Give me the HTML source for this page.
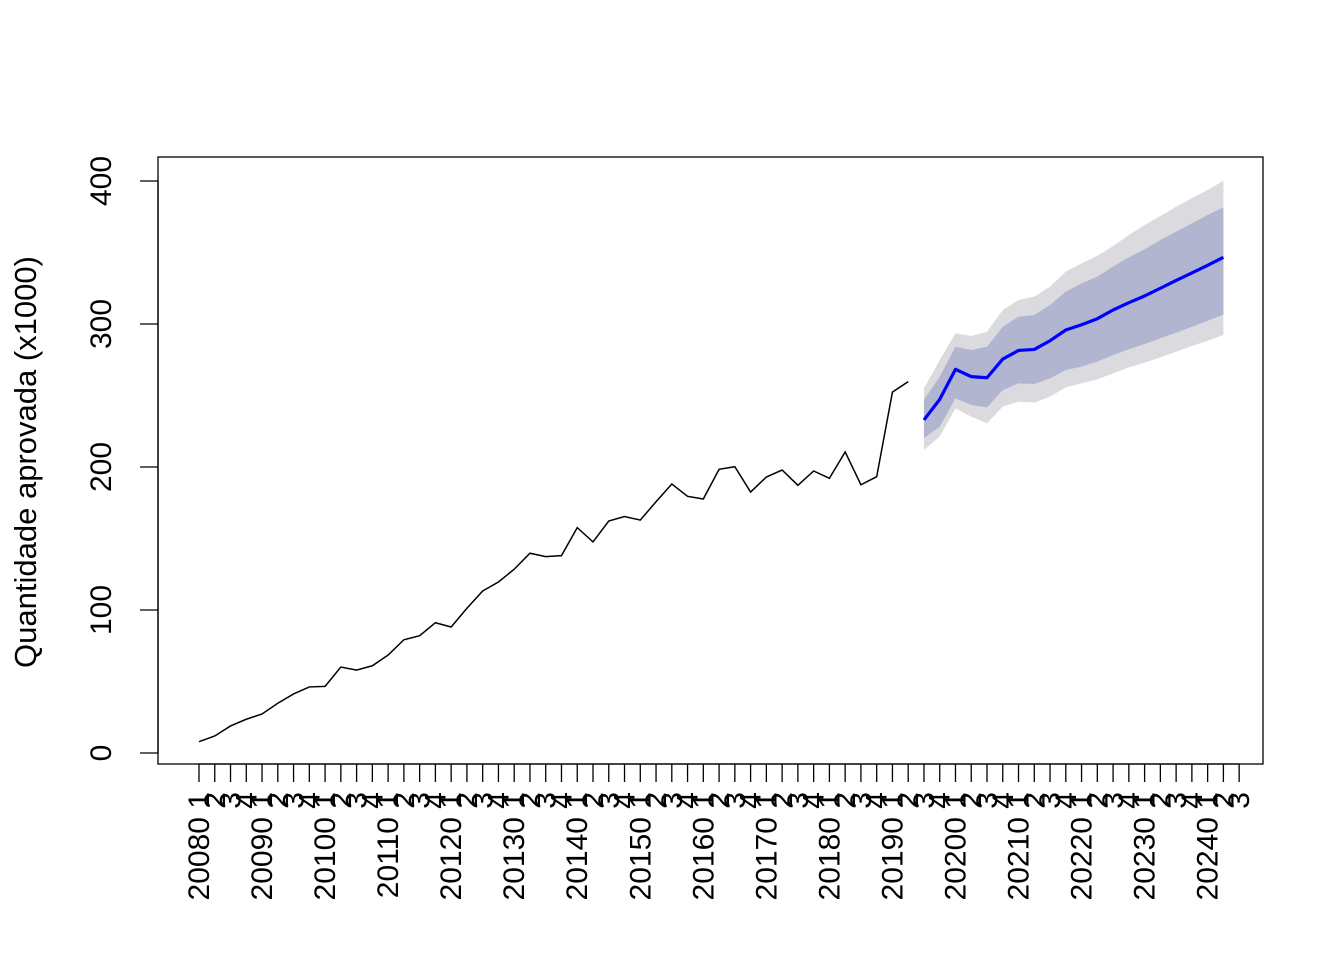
<!DOCTYPE html>
<html><head><meta charset="utf-8"><style>body{margin:0;background:#fff}svg{display:block;font-family:"Liberation Sans",sans-serif}</style></head>
<body>
<svg id="chart" width="1344" height="960" xmlns="http://www.w3.org/2000/svg">
<rect width="1344" height="960" fill="#fff"/>
<g id="bands"></g>
<g id="lines"></g>
<rect x="158" y="157" width="1105" height="607" fill="none" stroke="#000" stroke-width="1.3"/>
<g id="yaxis"></g>
<g id="xaxis"></g>
<text transform="translate(36,462) rotate(-90)" text-anchor="middle" font-size="31">Quantidade aprovada (x1000)</text>
</svg>
<script>
const historical = [7.9,11.9,18.9,23.6,27.3,34.8,41.3,46.2,46.6,60.1,58.0,61.0,68.5,79.2,82.0,91.1,88.1,101.2,113.3,119.6,128.5,139.7,137.3,138.0,157.6,147.6,162.2,165.4,162.9,175.7,188.1,179.5,177.6,198.4,200.2,182.5,193.0,197.9,187.2,197.2,192.1,210.5,187.6,193.2,252.4,259.7];
const forecastMean = [232.9,247.3,268.3,263.2,262.4,275.5,281.5,282.2,288.3,295.8,299.5,303.7,309.8,314.9,319.6,325.0,330.5,335.7,341.0,346.6];
const upper80 = [246.9,263.2,284.1,281.8,284.1,298.1,305.1,306.3,313.3,322.6,328.4,333.1,340.1,346.6,352.2,358.7,364.6,370.4,376.2,381.6];
const lower80 = [220.1,228.2,248.0,243.4,241.7,253.8,258.5,258.0,262.0,267.8,270.2,273.7,278.3,282.3,286.0,290.0,293.9,298.1,302.3,306.5];
const upper95 = [255.0,274.8,293.5,291.6,294.6,309.8,316.8,319.1,326.1,336.6,342.4,347.6,354.5,362.2,369.2,375.5,382.0,387.9,393.7,400.2];
const lower95 = [211.9,221.2,241.0,235.2,230.6,242.2,245.7,245.0,249.2,255.7,258.5,261.3,265.5,269.7,273.0,276.7,280.6,284.6,288.3,292.3];
const yTicks = [0,100,200,300,400];
const startYear = 2008;
const nTicks = 67;

const NS="http://www.w3.org/2000/svg";
const X = i => 199 + i*15.76;
const Y = v => 753 - v*1.43;
function mk(tag, attrs, parent){const e=document.createElementNS(NS,tag);for(const k in attrs)e.setAttribute(k,attrs[k]);parent.appendChild(e);return e;}
const bands=document.getElementById('bands'), lines=document.getElementById('lines');
const off = historical.length;
function bandPath(up, lo){
  let p = up.map((v,i)=>X(off+i)+','+Y(v));
  let q = lo.map((v,i)=>X(off+i)+','+Y(v)).reverse();
  return p.concat(q).join(' ');
}
const b95 = mk('polygon',{points:bandPath(upper95,lower95),fill:'#DBDBDF'},bands);


const b80 = mk('polygon',{points:bandPath(upper80,lower80),fill:'#B1B5CF'},bands);


const hl = mk('polyline',{points:historical.map((v,i)=>X(i)+','+Y(v)).join(' '),fill:'none',stroke:'#000','stroke-width':1.5},lines);


const fl = mk('polyline',{points:forecastMean.map((v,i)=>X(off+i)+','+Y(v)).join(' '),fill:'none',stroke:'#0000FF','stroke-width':3.2,'stroke-linejoin':'round'},lines);



const ya=document.getElementById('yaxis');
mk('line',{x1:158,x2:158,y1:Y(0),y2:Y(400),stroke:'#000','stroke-width':1.3},ya);
yTicks.forEach(t=>{
  mk('line',{x1:140,x2:158,y1:Y(t),y2:Y(t),stroke:'#000','stroke-width':1.3},ya);
  const tx = mk('text',{transform:`translate(111,${Y(t)}) rotate(-90)`,'text-anchor':'middle','font-size':30},ya);
  tx.textContent=t;
  
  
});
const xa=document.getElementById('xaxis');
mk('line',{x1:X(0),x2:X(nTicks-1),y1:764,y2:764,stroke:'#000','stroke-width':1.3},xa);
for(let i=0;i<nTicks;i++){
  mk('line',{x1:X(i),x2:X(i),y1:764,y2:782,stroke:'#000','stroke-width':1.3},xa);
  const q=i%4+1, yr=startYear+Math.floor(i/4);
  const g = mk('text',{transform:`translate(${X(i)+10},792) rotate(-90)`,'text-anchor':'end','font-size':30,'xml:space':'preserve'},xa);
  
  
  g.textContent = q===1 ? (yr+'0\u00a0'+q) : String(q);
}
</script>
</body></html>
